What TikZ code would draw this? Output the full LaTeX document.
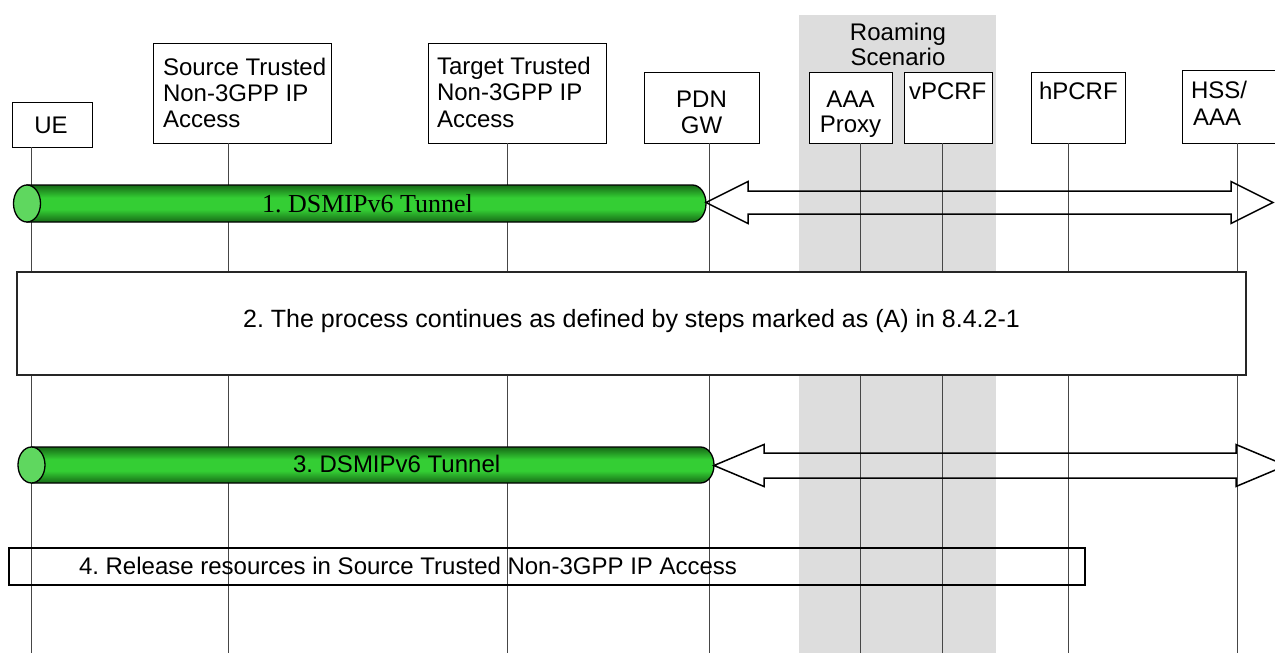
\documentclass[tikz,border=0pt]{standalone}
\usepackage{fontspec}
\setmainfont{Liberation Sans}
\newfontfamily\timesfont{Liberation Serif}
\usetikzlibrary{calc}
\definecolor{roam}{RGB}{221,221,221}
\definecolor{lifec}{RGB}{70,70,70}
\definecolor{tubedark}{RGB}{22,105,22}
\definecolor{tubemid}{RGB}{52,206,52}
\definecolor{capfill}{RGB}{95,215,95}
\pgfdeclareverticalshading{tubeshade}{100bp}{color(0bp)=(tubedark); color(25bp)=(tubedark); color(42bp)=(tubemid); color(58bp)=(tubemid); color(75bp)=(tubedark); color(100bp)=(tubedark)}
\begin{document}
\frenchspacing
\begin{tikzpicture}[x=1pt,y=-1pt,
  every node/.style={inner sep=0pt, outer sep=0pt},
  txt/.style={font=\fontsize{24}{26}\selectfont},
  hdr/.style={draw=black, line width=1pt, fill=white, anchor=north west},
  life/.style={draw=lifec, line width=1pt},
  tube/.style={shading=tubeshade, draw=black, line width=1.3pt},
  tubecap/.style={fill=capfill, draw=black, line width=1.3pt},
  blockarrow/.style={draw=black, line width=1.5pt, line join=miter}]
\useasboundingbox (0,0) rectangle (1275,653);
\clip (0,0) rectangle (1275,653);
\fill[white] (0,0) rectangle (1275,653);
% roaming region
\fill[roam] (799,15) rectangle (996,653);
\node[txt, anchor=base] (roam1) at (898,40) {Roaming};
\node[txt, anchor=base] (roam2) at (898,65.5) {Scenario};
% header boxes
\node[hdr, minimum width=80, minimum height=45] (ue) at (12,102) {};
\node[hdr, minimum width=178, minimum height=100] (src) at (153,43) {};
\node[hdr, minimum width=178, minimum height=100] (tgt) at (428,43) {};
\node[hdr, minimum width=115, minimum height=71] (pdn) at (644,72) {};
\node[hdr, minimum width=83, minimum height=71] (aaa) at (809,72) {};
\node[hdr, minimum width=88, minimum height=71] (vpcrf) at (904,72) {};
\node[hdr, minimum width=94, minimum height=71] (hpcrf) at (1031,72) {};
\node[hdr, minimum width=110, minimum height=73] (hss) at (1182,70) {};
% header texts
\node[txt, anchor=base] (ueT) at (51,133) {UE};
\node[txt, anchor=base west] (srcT1) at (163,75) {Source Trusted};
\node[txt, anchor=base west] (srcT2) at (163,101) {Non-3GPP IP};
\node[txt, anchor=base west] (srcT3) at (163,127) {Access};
\node[txt, anchor=base west] (tgtT1) at (437,74) {Target Trusted};
\node[txt, anchor=base west] (tgtT2) at (437,100.5) {Non-3GPP IP};
\node[txt, anchor=base west] (tgtT3) at (437,127) {Access};
\node[txt, anchor=base] (pdnT1) at (701.5,107) {PDN};
\node[txt, anchor=base] (pdnT2) at (701.5,133) {GW};
\node[txt, anchor=base] (aaaT1) at (850.5,107) {AAA};
\node[txt, anchor=base] (aaaT2) at (850.5,132) {Proxy};
\node[txt, anchor=base west] (vpcrfT) at (909,99) {vPCRF};
\node[txt, anchor=base west] (hpcrfT) at (1039,99) {hPCRF};
\node[txt, anchor=base west] (hssT1) at (1191,98) {HSS/};
\node[txt, anchor=base west] (hssT2) at (1193,125) {AAA};
% lifeline bottoms
\coordinate (ueB) at (31,653);
\coordinate (srcB) at (228,653);
\coordinate (tgtB) at (507,653);
\coordinate (pdnB) at (709.5,653);
\coordinate (aaaB) at (860,653);
\coordinate (vpcrfB) at (942,653);
\coordinate (hpcrfB) at (1068,653);
\coordinate (hssB) at (1237,653);
\foreach \n in {ue,src,tgt,pdn,aaa,vpcrf,hpcrf,hss}
  \draw[life] (\n.south -| \n B) -- (\n B);
% step 2 box
\node[draw=black!85, line width=1.2pt, fill=white, minimum width=1229, minimum height=103, anchor=north west] (s2) at (17,272) {};
\node[font=\fontsize{25}{27}\selectfont, anchor=base] (s2T) at (631.5,327) {2. The process continues as defined by steps marked as (A) in 8.4.2-1};
% step 4 box
\node[draw=black, line width=2pt, minimum width=1076, minimum height=37, anchor=north west] (s4) at (9,548) {};
\node[txt, anchor=base west] (s4T) at (79,574) {4. Release resources in Source Trusted Non-3GPP IP Access};
% tunnel 1
\path[tube] (27,185) -- (692.5,185) arc[start angle=-90, end angle=90, x radius=13.5, y radius=18.5] -- (27,222) -- cycle;
\draw[tubecap] (27,203.5) ellipse [x radius=13.5, y radius=18.5];
\node[font=\timesfont\fontsize{26}{28}\selectfont, anchor=base] (t1T) at (367.5,212) {1. DSMIPv6 Tunnel};
\coordinate (a1L) at (706,202.5);
\coordinate (a1R) at (1273,202.5);
\draw[blockarrow] (a1L) -- ($(a1L)+(42,-21)$) -- ($(a1L)+(42,-11.5)$) -- ($(a1R)+(-42,-11.5)$) -- ($(a1R)+(-42,-21)$) -- (a1R) -- ($(a1R)+(-42,21)$) -- ($(a1R)+(-42,11.5)$) -- ($(a1L)+(42,11.5)$) -- ($(a1L)+(42,21)$) -- cycle;
% tunnel 3
\path[tube] (31.5,447) -- (700.5,447) arc[start angle=-90, end angle=90, x radius=13.5, y radius=18] -- (31.5,483) -- cycle;
\draw[tubecap] (31.5,465) ellipse [x radius=13.5, y radius=18];
\node[txt, anchor=base west] (t3T) at (293,472) {3. DSMIPv6 Tunnel};
\coordinate (a3L) at (714,465.5);
\coordinate (a3R) at (1286,465.5);
\draw[blockarrow] (a3L) -- ($(a3L)+(50,-21)$) -- ($(a3L)+(50,-12.5)$) -- ($(a3R)+(-50,-12.5)$) -- ($(a3R)+(-50,-21)$) -- (a3R) -- ($(a3R)+(-50,21)$) -- ($(a3R)+(-50,12.5)$) -- ($(a3L)+(50,12.5)$) -- ($(a3L)+(50,21)$) -- cycle;
\end{tikzpicture}
\end{document}
